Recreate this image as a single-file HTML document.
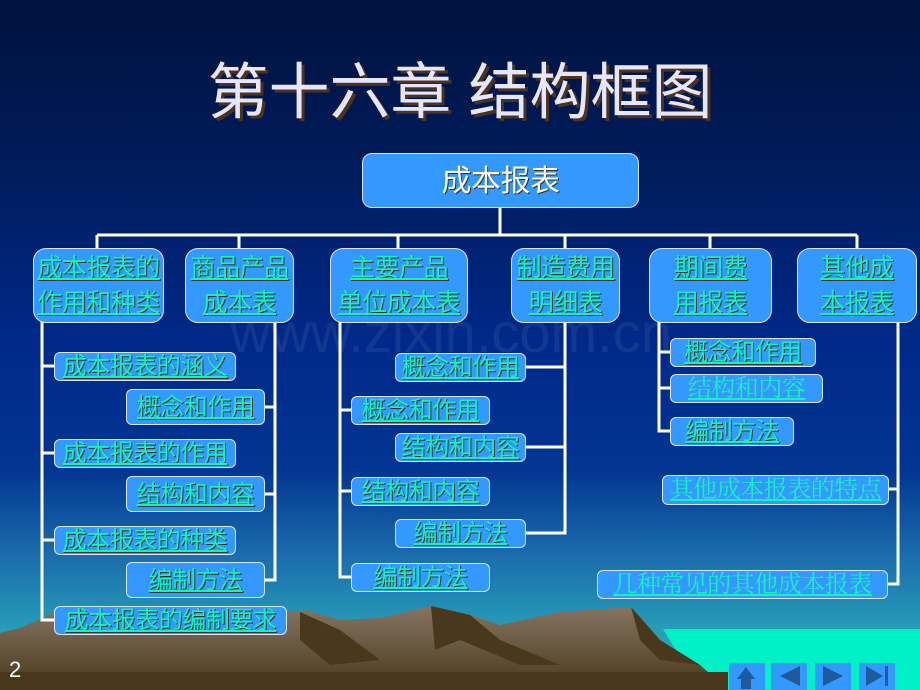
<!DOCTYPE html>
<html><head><meta charset="utf-8"><style>
body{margin:0;width:920px;height:690px;overflow:hidden;position:relative;font-family:"Liberation Sans","Noto Sans CJK SC",sans-serif;
background:linear-gradient(to bottom,#00123e 0%,#001c5c 25%,#00298a 50%,#023592 68%,#1a6aaa 80%,#28a0b8 92%,#2aa8bc 100%);}
.b{position:absolute;box-sizing:border-box;background:#3399ff;border:1.5px solid #d8e6ff;border-radius:6px;color:#19f0c0;text-decoration:underline;text-shadow:1px 1px 0 #333;white-space:nowrap;text-align:center;line-height:28px;font-size:24px;letter-spacing:-0.5px;}
.L{border-radius:13px;line-height:35px;font-size:25px;padding-top:2px}
.s{font-family:"Liberation Serif","Noto Serif CJK SC",serif;text-shadow:none}
svg{position:absolute;left:0;top:0}
</style></head><body>
<svg width="920" height="690">
<defs><linearGradient id="m" x1="0" y1="0" x2="0" y2="1"><stop offset="0" stop-color="#857562"/><stop offset="1" stop-color="#4a381c"/></linearGradient></defs>
<polygon points="663,629 920,629 920,690 700,690" fill="#00f0c8"/>
<polygon points="0,633 20,628 60,610 120,612 180,620 240,610 300,612 305,610 340,620 380,618 431,606 470,615 500,625 560,612 631,607 660,640 700,665 728,690 0,690" fill="url(#m)"/>
<polygon points="300,612 340,630 380,660 330,665 300,640" fill="#4a381c"/>
<polygon points="431,606 470,615 500,640 560,665 520,665 460,640 435,650" fill="#4a381c"/>
<polygon points="631,607 660,640 700,665 660,660 640,640" fill="#4a381c"/>
<rect x="0" y="672" width="728" height="18" fill="#4a381c"/>
<g stroke="#fff" stroke-width="3" fill="none">
<path d="M500,207V235M97,235H857M97,235V248M239,235V248M398,235V248M565,235V248M710,235V248M857,235V248"/>
<path d="M42,322V620H54M42,366H54M42,453H54M42,540H54"/>
<path d="M275,322V580H264M275,407H264M275,494H264"/>
<path d="M340,322V577H351M340,410H351M340,491H351"/>
<path d="M565,322V533H525M565,367H525M565,447H525"/>
<path d="M659,322V431H670M659,352H670M659,388H670"/>
<path d="M898,322V584H887M898,489H888"/>
</g>
<g fill="#3399ff"><rect x="729" y="663" width="36" height="27"/><rect x="771" y="663" width="36" height="27"/><rect x="815" y="663" width="36" height="27"/><rect x="859" y="663" width="36" height="27"/></g>
<g fill="#1f5a9a"><polygon points="746,667 737,679 755,679"/><rect x="741" y="679" width="10" height="10"/><polygon points="780,676 800,666 800,686"/><polygon points="843,676 823,666 823,686"/><polygon points="883,676 866,666 866,686"/><rect x="885" y="666" width="3" height="20"/></g>
</svg>
<div style="position:absolute;left:0;width:920px;top:42px;text-align:center;font-size:61px;color:#e8e6ff;text-shadow:3px 3px 0 #4a3420;">第十六章 结构框图</div>
<div style="position:absolute;left:230px;top:300px;font-size:56px;color:rgba(255,255,255,0.07)">www.zixin.com.cn</div>
<div class="b" style="left:362px;top:153px;width:277px;height:55px;line-height:55px;font-size:30px;color:#fff;text-decoration:none;border-radius:10px">成本报表</div>
<div class="b L" style="left:33px;top:248px;width:131px;height:75px">成本报表的<br>作用和种类</div>
<div class="b L" style="left:185px;top:248px;width:109px;height:75px">商品产品<br>成本表</div>
<div class="b L" style="left:330px;top:248px;width:138px;height:75px">主要产品<br>单位成本表</div>
<div class="b L" style="left:511px;top:248px;width:109px;height:75px">制造费用<br>明细表</div>
<div class="b L" style="left:649px;top:248px;width:123px;height:75px">期间费<br>用报表</div>
<div class="b L" style="left:797px;top:248px;width:120px;height:75px">其他成<br>本报表</div>
<div class="b" style="left:54px;top:352px;width:182px;height:29px">成本报表的涵义</div>
<div class="b" style="left:126px;top:389px;width:139px;height:36px;line-height:36px">概念和作用</div>
<div class="b" style="left:54px;top:439px;width:182px;height:29px">成本报表的作用</div>
<div class="b" style="left:126px;top:476px;width:139px;height:36px;line-height:36px">结构和内容</div>
<div class="b" style="left:54px;top:526px;width:182px;height:29px">成本报表的种类</div>
<div class="b" style="left:126px;top:562px;width:139px;height:36px;line-height:36px">编制方法</div>
<div class="b" style="left:54px;top:606px;width:233px;height:29px">成本报表的编制要求</div>
<div class="b" style="left:395px;top:353px;width:131px;height:29px">概念和作用</div>
<div class="b" style="left:351px;top:396px;width:139px;height:29px">概念和作用</div>
<div class="b" style="left:395px;top:433px;width:131px;height:29px">结构和内容</div>
<div class="b" style="left:351px;top:477px;width:139px;height:29px">结构和内容</div>
<div class="b" style="left:395px;top:519px;width:131px;height:29px">编制方法</div>
<div class="b" style="left:351px;top:563px;width:139px;height:29px">编制方法</div>
<div class="b" style="left:670px;top:338px;width:146px;height:29px">概念和作用</div>
<div class="b s" style="left:670px;top:374px;width:153px;height:29px">结构和内容</div>
<div class="b" style="left:670px;top:417px;width:124px;height:29px">编制方法</div>
<div class="b s" style="left:662px;top:475px;width:227px;height:30px">其他成本报表的特点</div>
<div class="b s" style="left:597px;top:570px;width:291px;height:29px">几种常见的其他成本报表</div>
<div style="position:absolute;left:9px;top:657px;color:#fff;font-size:22px">2</div>
</body></html>
